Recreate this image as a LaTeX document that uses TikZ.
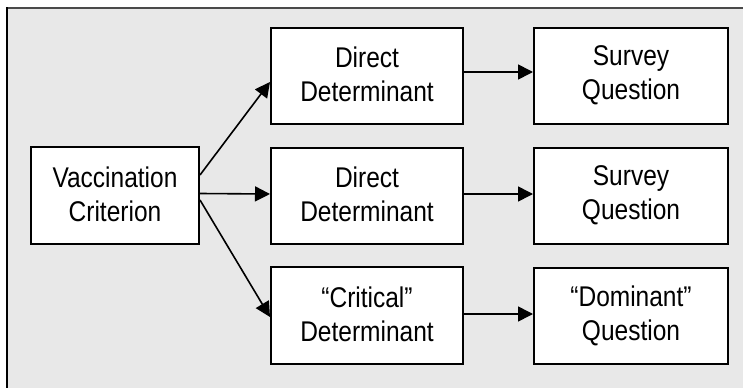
\documentclass[tikz,border=0pt]{standalone}
\usepackage{fontspec}
\setmainfont{Liberation Sans}[FakeStretch=0.86]
\usetikzlibrary{arrows.meta}
\definecolor{panelgray}{HTML}{E8E8E8}
\definecolor{topline}{HTML}{4A4A4A}
\tikzset{
  box/.style={draw=black, line width=2pt, fill=white, inner sep=0pt,
    minimum width=192pt, minimum height=96pt, align=center,
    font=\fontsize{28.5}{34}\selectfont,
    execute at begin node={\rule{0pt}{28pt}},
    execute at end node={\rule[-3pt]{0pt}{3pt}}},
  conn/.style={line width=1.6pt, -{Triangle[length=15pt,width=15pt]}}
}
\begin{document}
\begin{tikzpicture}[x=1pt,y=-1pt]
\useasboundingbox (0,0) rectangle (743,388);
\fill[white] (0,0) rectangle (743,388);
\fill[panelgray] (7,8) rectangle (743,388);
\draw[topline, line width=2pt] (6,8) -- (743,8);
\draw[black, line width=2pt] (7,7) -- (7,388);

\node[box, minimum width=168pt, minimum height=97pt] (V) at (115,195.5) {Vaccination\\Criterion};
\node[box] (D1) at (367,75.5) {Direct\\Determinant};
\node[box] (D2) at (367,195.5) {Direct\\Determinant};
\node[box, minimum height=97pt] (C) at (367,315.5) {“Critical”\\Determinant};
\node[box, minimum width=194pt] (S1) at (631,75.5) {Survey\\Question};
\node[box, minimum width=194pt] (S2) at (631,195.5) {Survey\\Question};
\node[box, minimum width=194pt] (S3) at (631,315.5) {“Dominant”\\Question};

\draw[conn] ([yshift=20.5pt]V.east) -- ([yshift=-6.5pt]D1.west);
\draw[conn] ([yshift=2pt]V.east) -- ([yshift=1.5pt]D2.west);
\draw[conn] ([yshift=-4.5pt]V.east) -- ([yshift=-1.5pt]C.west);
\draw[conn] ([yshift=3.5pt]D1.east) -- ([yshift=3.5pt]S1.west);
\draw[conn] ([yshift=1.5pt]D2.east) -- ([yshift=1.5pt]S2.west);
\draw[conn] ([yshift=1.5pt]C.east) -- ([yshift=1.5pt]S3.west);
\end{tikzpicture}
\end{document}
